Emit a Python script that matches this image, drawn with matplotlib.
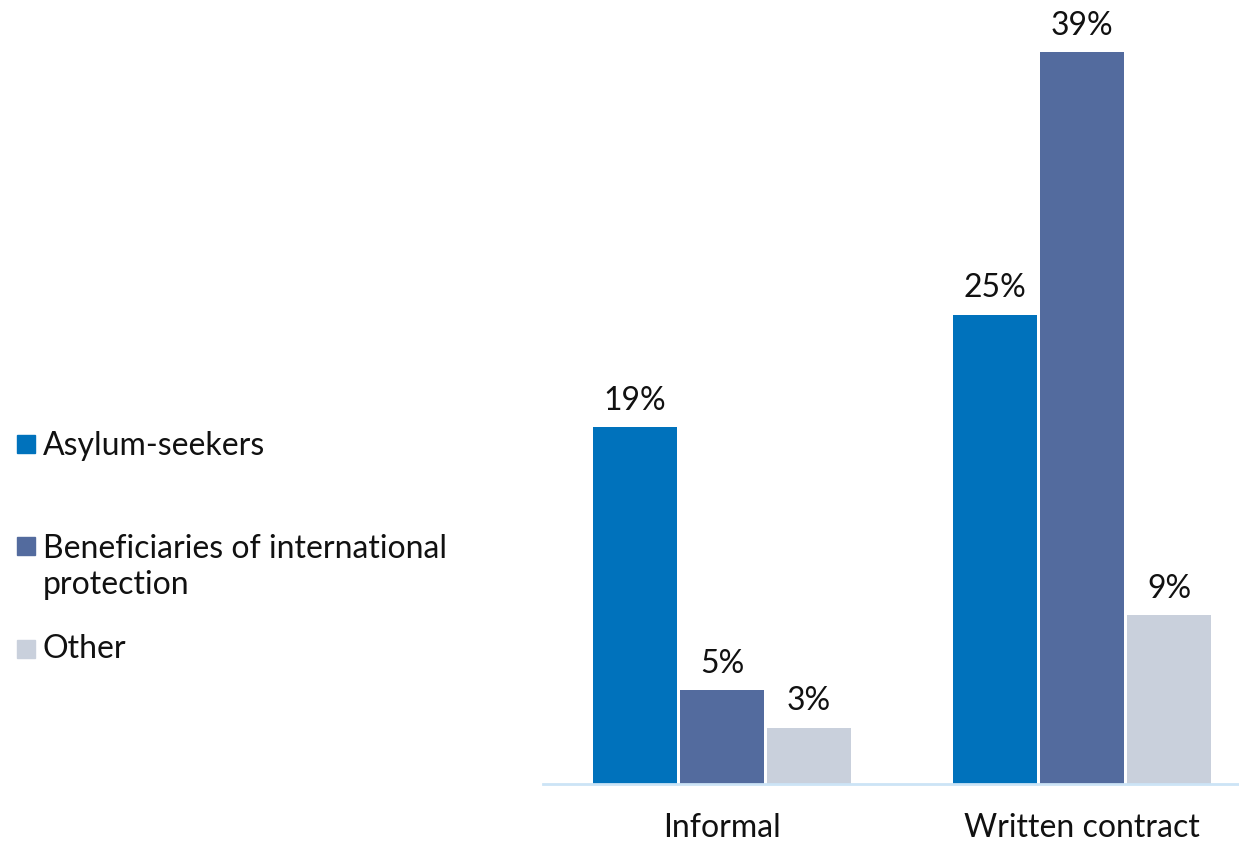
import matplotlib
matplotlib.use("Agg")
import matplotlib.pyplot as plt
from matplotlib.patches import Rectangle
import numpy as np

plt.rcParams["font.family"] = ["Lato", "DejaVu Sans"]

categories = ["Informal", "Written contract"]
series = ["Asylum-seekers", "Beneficiaries of international\nprotection", "Other"]
values = {
    "Asylum-seekers": [19, 25],
    "Beneficiaries of international\nprotection": [5, 39],
    "Other": [3, 9],
}
colors = ["#0072BC", "#536B9E", "#C9D0DC"]
FS = 23

fig = plt.figure(figsize=(12.39, 8.42), dpi=100)
ax = fig.add_axes([543 / 1239, 58 / 842, 696 / 1239, 773.4 / 842])

x = np.arange(len(categories))
step = 87 / 360
width = 84 / 360
for i, (name, col) in enumerate(zip(series, colors)):
    xs = x + (i - 1) * step
    bars = ax.bar(xs, values[name], width=width, color=col, zorder=2)
    for b, v in zip(bars, values[name]):
        ax.annotate(f"{v}%", (b.get_x() + b.get_width() / 2, v),
                    xytext=(0, 12.5), textcoords="offset points",
                    ha="center", va="baseline", fontsize=FS, color="#111111")

ax.set_xlim(-0.497, 1.436)
ax.set_ylim(0, 41.2)
ax.set_xticks(x)
ax.set_xticklabels(categories, fontsize=FS, color="#111111")
ax.tick_params(axis="x", length=0, pad=21)
ax.set_yticks([])
for s in ("top", "right", "left"):
    ax.spines[s].set_visible(False)
ax.spines["bottom"].set_color("#CCE4F6")
ax.spines["bottom"].set_linewidth(2)

# legend drawn by hand to keep the uneven spacing of the original
# (baseline of the last text line, top of the square, in pixels from top)
W, H = 1239, 842
base_y = [455, 594, 658]
sq_y = [435, 537, 640]
for name, col, by, sy in zip(series, colors, base_y, sq_y):
    fig.add_artist(Rectangle((17 / W, 1 - (sy + 18) / H), 18 / W, 18 / H,
                             transform=fig.transFigure, color=col))
    fig.text(43 / W, 1 - by / H, name, fontsize=FS, color="#111111",
             ha="left", va="baseline", linespacing=1.25)

fig.savefig("out.png", dpi=100)
